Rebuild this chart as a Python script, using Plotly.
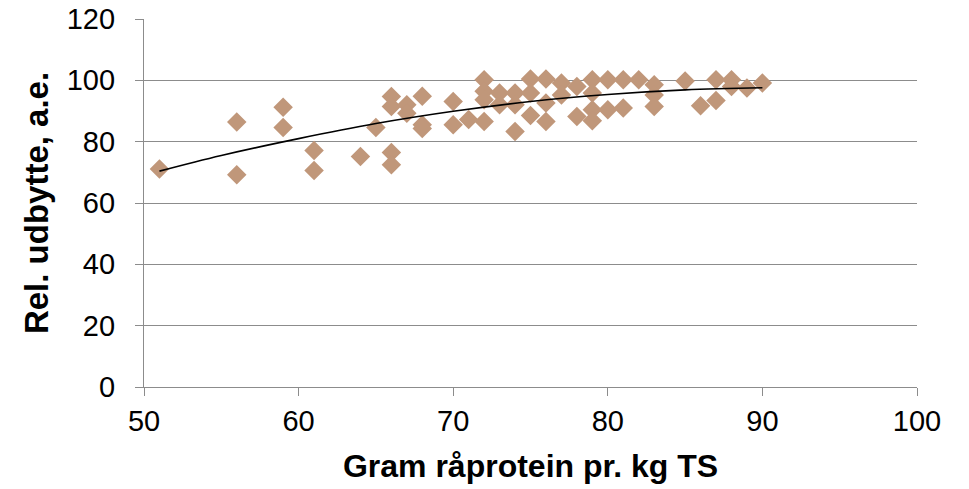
import plotly.graph_objects as go

protein = [51, 56, 56, 59, 59, 61, 61, 64, 65, 66, 66, 66, 66, 67, 67, 68, 68, 68,
           70, 70, 71, 72, 72, 72, 72, 73, 73, 74, 74, 74, 75, 75, 75, 76, 76, 76,
           77, 77, 78, 78, 79, 79, 79, 79, 80, 80, 81, 81, 82, 83, 83, 83, 85, 86,
           87, 87, 88, 88, 89, 90]
udbytte = [71.1, 86.4, 69.2, 91.2, 84.6, 77.1, 70.6, 75.2, 84.6, 94.7, 91.5, 76.5, 72.5,
           92.0, 89.3, 94.8, 85.5, 84.3, 93.1, 85.5, 87.2, 100.2, 96.4, 93.7, 86.6,
           95.9, 92.0, 95.9, 92.0, 83.3, 100.4, 95.9, 88.5, 100.4, 92.6, 86.6,
           99.1, 95.2, 98.0, 88.2, 100.2, 95.9, 90.4, 86.8, 100.2, 90.4, 100.2, 91.0,
           100.2, 98.6, 95.2, 91.5, 99.8, 91.7, 100.2, 93.4, 100.2, 98.0, 97.5, 99.1]

trend_x = [51, 55, 60, 65, 70, 75, 80, 85, 90]
trend_y = [70.4, 75.5, 81.0, 85.9, 89.9, 93.1, 95.4, 96.9, 97.6]

x_ticks = [50, 60, 70, 80, 90, 100]
y_ticks = [0, 20, 40, 60, 80, 100, 120]

fig = go.Figure()
fig.add_trace(go.Scatter(
    x=protein, y=udbytte, mode="markers",
    marker=dict(symbol="diamond", size=15, color="#C0977A", line=dict(width=0)),
    showlegend=False, hoverinfo="x+y"))
fig.add_trace(go.Scatter(
    x=trend_x, y=trend_y, mode="lines", line=dict(color="black", width=1.6, shape="spline"),
    showlegend=False, hoverinfo="skip"))

font_family = "Liberation Sans, Arial, sans-serif"
grid = "#8C8C8C"
fig.update_layout(
    width=969, height=489,
    margin=dict(l=144, r=52, t=19, b=102, autoexpand=False),
    paper_bgcolor="white", plot_bgcolor="white",
    font=dict(family=font_family, color="black"),
    xaxis=dict(
        range=[50, 100], tickvals=x_ticks, ticks="outside", ticklen=8, tickcolor=grid,
        tickwidth=1.3, showgrid=False, zeroline=False, showline=True, linecolor=grid,
        linewidth=1.3, tickfont=dict(size=29), fixedrange=True, automargin=False,
        ticklabeloverflow="allow",
        title=dict(text="<b>Gram råprotein pr. kg TS</b>", font=dict(size=32), standoff=18),
    ),
    yaxis=dict(
        range=[0, 120], tickvals=y_ticks, ticks="outside", ticklen=8, tickcolor=grid,
        tickwidth=1.3, showgrid=True, gridcolor=grid, gridwidth=1.3, zeroline=False,
        showline=True, linecolor=grid, linewidth=1.3, tickfont=dict(size=29),
        fixedrange=True, automargin=False, ticklabeloverflow="allow",
        ticklabelstandoff=14,
        title=dict(text="<b>Rel. udbytte, a.e.</b>", font=dict(size=33), standoff=8),
    ),
)

fig.write_html(
    "out.html",
    config={"displayModeBar": False},
    post_script="document.body.style.margin='0';document.body.style.overflow='hidden';",
)
